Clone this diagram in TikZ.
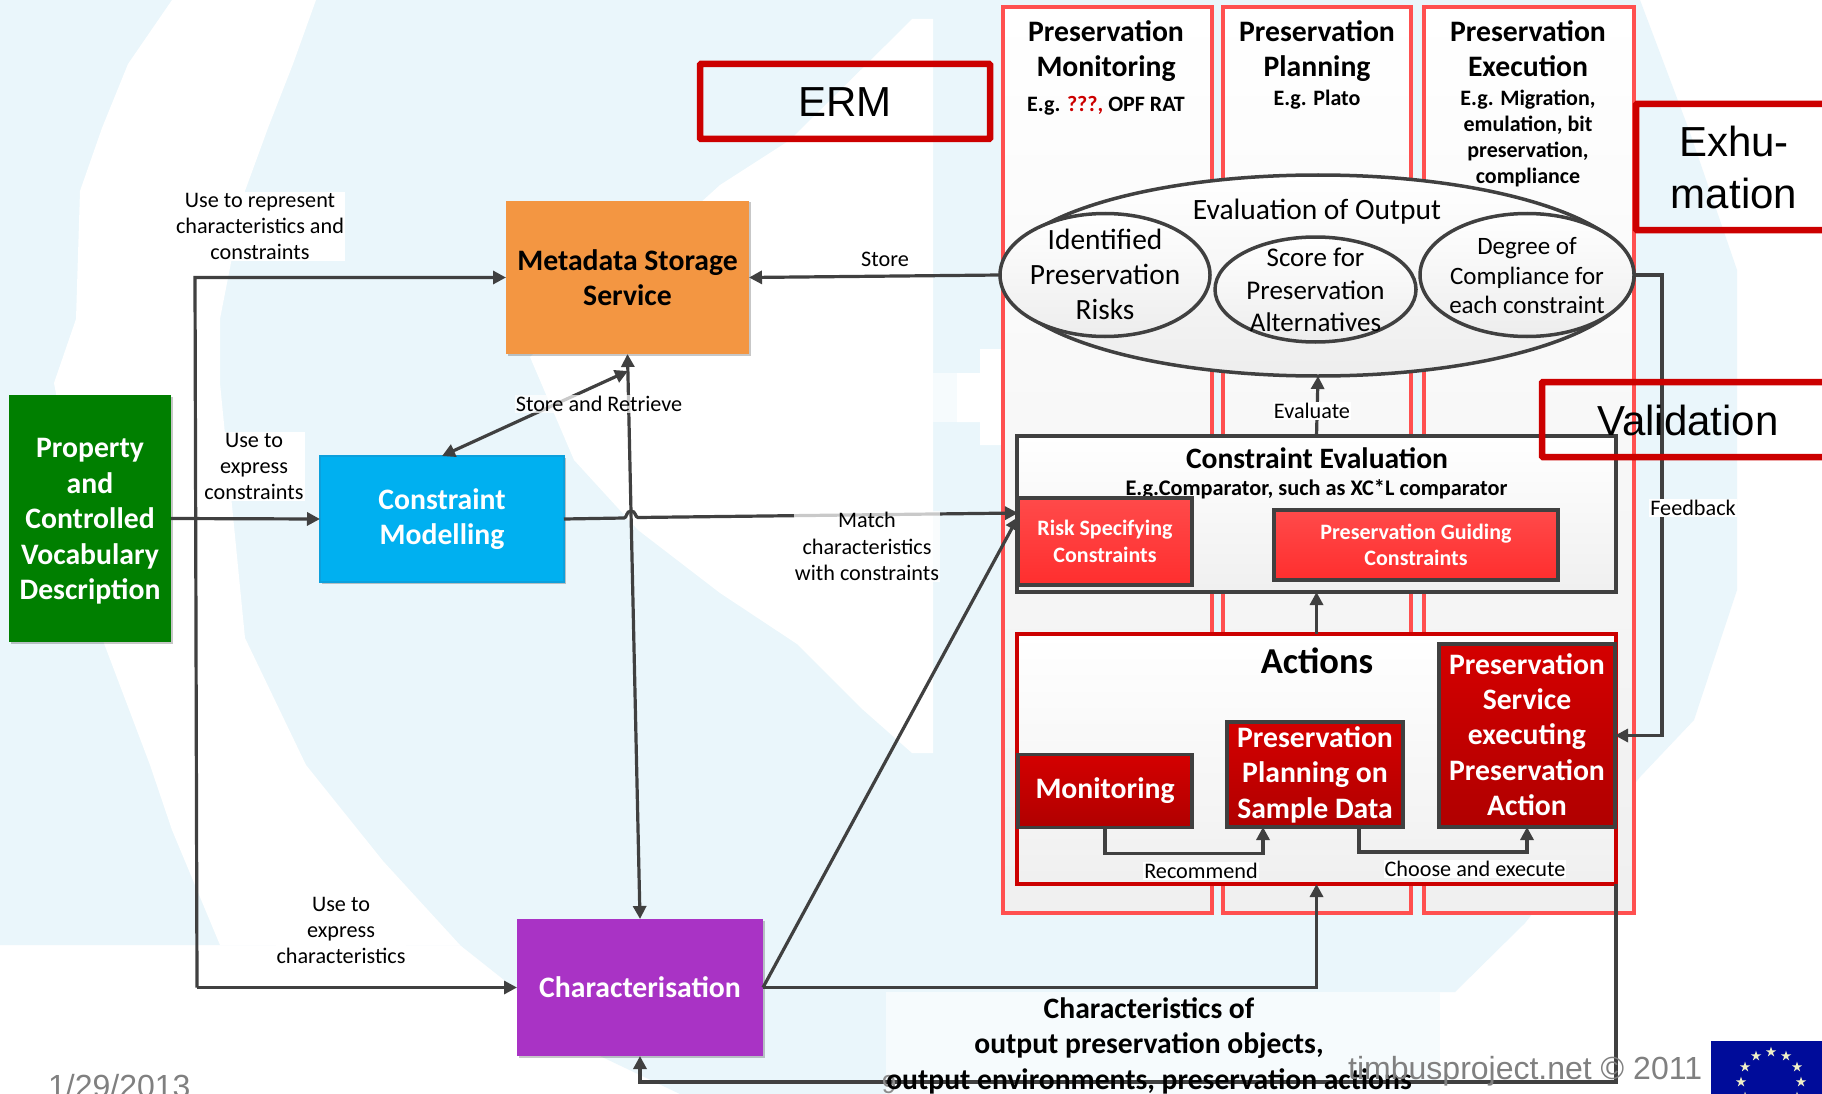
\documentclass[tikz,border=0pt]{standalone}
\usepackage{fontspec}
\setmainfont{Carlito}
\newfontfamily\arialf{Liberation Sans}
\usetikzlibrary{arrows.meta,shapes.geometric,calc,shadows}
\definecolor{pale}{HTML}{EAF6FB}
\definecolor{paler}{HTML}{F6FBFD}
\definecolor{ln}{HTML}{404040}
\definecolor{crim}{HTML}{CC0000}
\definecolor{colred}{HTML}{FF5050}
\definecolor{ltop}{HTML}{FF4A4A}
\definecolor{lbot}{HTML}{FF2E2E}
\definecolor{dtop}{HTML}{D40000}
\definecolor{dbot}{HTML}{B00000}
\definecolor{orangebox}{HTML}{F39642}
\definecolor{greenbox}{HTML}{007F00}
\definecolor{bluebox}{HTML}{00B0F0}
\definecolor{blueedge}{HTML}{0CA0DC}
\definecolor{purplebox}{HTML}{A933C5}
\definecolor{flagblue}{HTML}{000C9A}
\definecolor{flagstar}{HTML}{F0F0C8}
\newcommand{\fsz}[2]{\fontsize{#1}{#2}\selectfont}
\tikzset{
  arr/.style={draw=ln,line width=3.2pt,-{Triangle[length=13pt,width=13pt]}},
  darr/.style={draw=ln,line width=3.2pt,{Triangle[length=13pt,width=13pt]}-{Triangle[length=13pt,width=13pt]}},
  boxbase/.style={rectangle,inner sep=0pt,outer sep=0pt,align=center},
  softshadow/.style={drop shadow={shadow xshift=1.5pt,shadow yshift=-1.5pt,opacity=.22,fill=black}},
  col/.style={boxbase,draw=colred,line width=3.5pt,top color=white,bottom color=black!6},
  coltitle/.style={align=center,inner sep=0pt,font=\bfseries\fsz{29.7}{35}},
  colnote/.style={align=center,inner sep=0pt,font=\bfseries\fsz{22}{26}},
  conbox/.style={boxbase,draw=ln,line width=3.5pt,top color=white,bottom color=black!6},
  actbox/.style={boxbase,draw=crim,line width=3.5pt,top color=white,bottom color=black!6},
  lightred/.style={boxbase,draw=ln,line width=3.5pt,top color=ltop,bottom color=lbot,text=white,font=\bfseries\fsz{22}{26.5}},
  darkred/.style={boxbase,draw=ln,line width=3.5pt,top color=dtop,bottom color=dbot,text=white,font=\bfseries\fsz{29.7}{35.4}},
  solidbox/.style={boxbase,softshadow,font=\bfseries\fsz{29.7}{35.4}},
  boxtext/.style={align=center,inner sep=0pt,font=\bfseries\fsz{29.7}{35.4}},
  oval/.style={ellipse,inner sep=0pt,outer sep=0pt,draw=ln,line width=3.5pt,top color=white,bottom color=black!7},
  ovaltext/.style={align=center,inner sep=0pt},
  lab/.style={align=center,inner sep=1pt,font=\fsz{22.2}{26.3}},
  wlab/.style={lab,fill=white},
  tlab/.style={lab,fill=white,fill opacity=.72,text opacity=1},
  ermbox/.style={rectangle,draw=crim,line width=6.5pt,rounded corners=1pt,inner sep=0pt,outer sep=0pt},
  bigtext/.style={align=center,inner sep=0pt,font=\arialf\fsz{42}{52}},
  foot/.style={inner sep=0pt,text=black!50,font=\arialf\fsz{32}{36}},
}
\begin{document}
\begin{tikzpicture}[x=1pt,y=-1pt]
\useasboundingbox (0,0) rectangle (1822,1094);
\clip (0,0) rectangle (1822,1094);
% background wash
\fill[white] (0,0) rectangle (1822,1094);
\fill[pale] (0,0) -- (1640,0) -- (1689,130) -- (1737,270) -- (1737,590) -- (1694,720) -- (1640,777) -- (1525,923) -- (1455,992) -- (886,992) -- (886,1094) -- (680,1094) -- (600,1056) -- (460,945) -- (0,945) -- cycle;
\fill[paler] (886,992) rectangle (1440,1094);
\fill[white] (172,0) -- (316,0) -- (293,64) -- (268,128) -- (245,191) -- (220,319) -- (220,383) -- (245,638) -- (306,765) -- (383,861) -- (460,945) -- (220,945) -- (172,830) -- (150,765) -- (102,638) -- (54,383) -- (76,319) -- (80,191) -- (102,128) -- (128,64) -- cycle;
\fill[white] (912,19) -- (886,45) -- (790,140) -- (720,185) -- (530,357) -- (574,460) -- (638,530) -- (720,593) -- (797,644) -- (861,708) -- (912,753) -- (933,753) -- (933,19) -- cycle;
\fill[white] (980,349) -- (1003,349) -- (1003,445) -- (980,445) -- (980,422) -- (957,422) -- (957,373) -- (980,373) -- cycle;
\fill[paler] (933,373) rectangle (957,422);
% columns
\node[col,minimum width=209pt,minimum height=906pt] (colA) at (1107.5,460) {};
\node[col,minimum width=188pt,minimum height=906pt] (colB) at (1317,460) {};
\node[col,minimum width=210pt,minimum height=906pt] (colC) at (1529,460) {};
\node[coltitle] (tA) at (1106,51.5) {Preservation\\Monitoring};
\node[coltitle] (tB) at (1317,51.5) {Preservation\\Planning};
\node[coltitle] (tC) at (1528,48.5) {Preservation\\Execution};
\node[colnote] (nA) at (1106,106) {E.g. \textcolor{crim}{???,} OPF RAT};
\node[colnote] (nB) at (1317,100) {E.g. Plato};
\node[colnote] (nC) at (1528,138) {E.g. Migration,\\emulation, bit\\preservation,\\compliance};
% evaluation of output
\node[oval,minimum width=632pt,minimum height=201pt] (evalout) at (1318,275.5) {};
\node[ovaltext,font=\fsz{29.5}{32}] (evalt) at (1317,212) {Evaluation of Output};
\node[oval,minimum width=210pt,minimum height=123pt] (e1) at (1105,275) {};
\node[oval,minimum width=201pt,minimum height=105pt] (e2) at (1315.5,289.5) {};
\node[oval,minimum width=214pt,minimum height=123pt] (e3) at (1527,275) {};
\node[ovaltext,font=\fsz{29.4}{35}] (e1t) at (1105,274) {Identified\\Preservation\\Risks};
\node[ovaltext,font=\fsz{27}{32.5}] (e2t) at (1315.5,290) {Score for\\Preservation\\Alternatives};
\node[ovaltext,font=\fsz{25}{29.5}] (e3t) at (1527,276) {Degree of\\Compliance for\\each constraint};
% constraint evaluation
\node[conbox,minimum width=599pt,minimum height=156pt] (cev) at (1316.5,514) {};
\node[inner sep=0pt,font=\bfseries\fsz{29.6}{32}] (cevt) at (1317,458) {Constraint Evaluation};
\node[inner sep=0pt,font=\bfseries\fsz{22.3}{26}] (cevn) at (1316.5,489) {E.g.Comparator, such as XC*L comparator};
\node[lightred,minimum width=174pt,minimum height=87pt] (risk) at (1105,541.5) {Risk Specifying\\Constraints};
\node[lightred,minimum width=284pt,minimum height=70pt] (guide) at (1416,545) {Preservation Guiding\\Constraints};
% actions
\node[actbox,minimum width=599pt,minimum height=250pt] (act) at (1316.5,759) {};
\node[inner sep=0pt,font=\bfseries\fsz{36.5}{40}] (actt) at (1317,661) {Actions};
\node[darkred,minimum width=174pt,minimum height=73pt] (mon) at (1105,791) {Monitoring};
\node[darkred,minimum width=176pt,minimum height=105pt] (plan) at (1315,774.5) {Preservation\\Planning on\\Sample Data};
\node[darkred,minimum width=176pt,minimum height=183pt] (serv) at (1527,735.5) {};
\node[boxtext,text=white] (servt) at (1527,734.5) {Preservation\\Service\\executing\\Preservation\\Action};
% left boxes
\node[solidbox,fill=greenbox,minimum width=162pt,minimum height=247pt] (prop) at (90,518.5) {};
\node[boxtext,text=white] (propt) at (90,521.5) {Property\\and\\Controlled\\Vocabulary\\Description};
\node[solidbox,fill=orangebox,text=black,minimum width=243pt,minimum height=153pt] (meta) at (627.5,277.5) {Metadata Storage\\Service};
\node[solidbox,fill=bluebox,draw=blueedge,line width=2pt,text=white,minimum width=244pt,minimum height=126pt] (cm) at (442,519) {Constraint\\Modelling};
\node[solidbox,fill=purplebox,text=white,minimum width=246pt,minimum height=137pt] (char) at (640,987.5) {Characterisation};
% free ends of connectors
\coordinate (busT) at (195,277.5);
\coordinate (busB) at (197,987.5);
\coordinate (storeEnd) at (628,371);
\coordinate (riskHi) at (1018,513);
\coordinate (riskLo) at (1018,517);
\coordinate (jumpA) at (624,518);
\coordinate (jumpB) at (638,517.5);
\coordinate (fbCorner) at (1662,275);
\coordinate (recA) at (1263,827);
\coordinate (recB) at (1359,827);
% connectors
\draw[arr] (busB) -- (busT) -- (meta.west);
\draw[arr] (busB) -- (char.west);
\draw[arr] (prop.east) -- (cm.west);
\draw[arr] (e1.west) -- (meta.east);
\draw[darr] (cm.north) -- (storeEnd);
\draw[darr] (meta.south) -- (char.north);
\draw[arr] (cm.east) -- (jumpA) .. controls (627,518) and (626,511) .. (631,511) .. controls (636,511) and (635,517.5) .. (jumpB) -- (riskHi);
\draw[arr] (char.east) -- (riskLo);
\draw[arr] (char.east) -| (act.south);
\draw[arr] (act.south east) -- ++(0,198) -| (char.south);
\draw[arr] (act.north) -- (cev.south);
\draw[arr] (cev.north) -- (evalout.south);
\draw[arr] (e3.east) -- (fbCorner) |- (serv.east);
\draw[arr] (mon.south) -- ++(0,26) -| (recA);
\draw[arr] (recB) -- ++(0,25) -| (serv.south);
% connector labels
\node[wlab] (lrep) at (260,226.5) {Use to represent\\characteristics and\\constraints};
\node[wlab] (lexp) at (254,466.5) {Use to\\express\\constraints};
\node[wlab] (lchar) at (341,930.5) {Use to\\express\\characteristics};
\node[lab] (lstore) at (885,259) {Store};
\node[tlab] (lsr) at (599,404) {Store and Retrieve};
\node[tlab] (lmatch) at (867,546.5) {Match\\characteristics\\with constraints};
\node[wlab] (leval) at (1312,411) {Evaluate};
\node[wlab] (lfb) at (1693,508) {Feedback};
\node[wlab] (lrec) at (1201,871) {Recommend};
\node[wlab] (lcho) at (1475,869) {Choose and execute};
\node[inner sep=0pt,text=black!45,font=\arialf\fsz{26}{30}] (fnum) at (889,1085) {9};
\node[align=center,inner sep=0pt,font=\bfseries\fsz{29.6}{35.5}] (lout) at (1149,1045.5) {Characteristics of\\output preservation objects,\\output environments, preservation actions};
% red call-out frames
\node[ermbox,minimum width=290pt,minimum height=75pt] (erm) at (845,101.5) {};
\node[bigtext] (ermt) at (845,102) {ERM};
\node[ermbox,minimum width=260pt,minimum height=126pt] (exh) at (1766,167) {};
\node[bigtext] (exht) at (1734,167) {Exhu-\\mation};
\node[ermbox,minimum width=340pt,minimum height=75pt] (val) at (1712,419.5) {};
\node[bigtext] (valt) at (1688,420) {Validation};
% footer
\node[foot,anchor=west] (fdate) at (48,1086) {1/29/2013};
\node[foot,anchor=west] (fsite) at (1348,1071) {timbusproject.net © 2011};
% flag
\fill[flagblue] (1711,1041) rectangle (1822,1094);
\foreach \a in {0,30,...,330}{
  \fill[flagstar,shift={(\a:30 and 30)},shift={(1771,1082)}] (-90:5.5) -- (-54:2) -- (-18:5.5) -- (18:2) -- (54:5.5) -- (90:2) -- (126:5.5) -- (162:2) -- (198:5.5) -- (234:2) -- cycle;
}
\end{tikzpicture}
\end{document}
